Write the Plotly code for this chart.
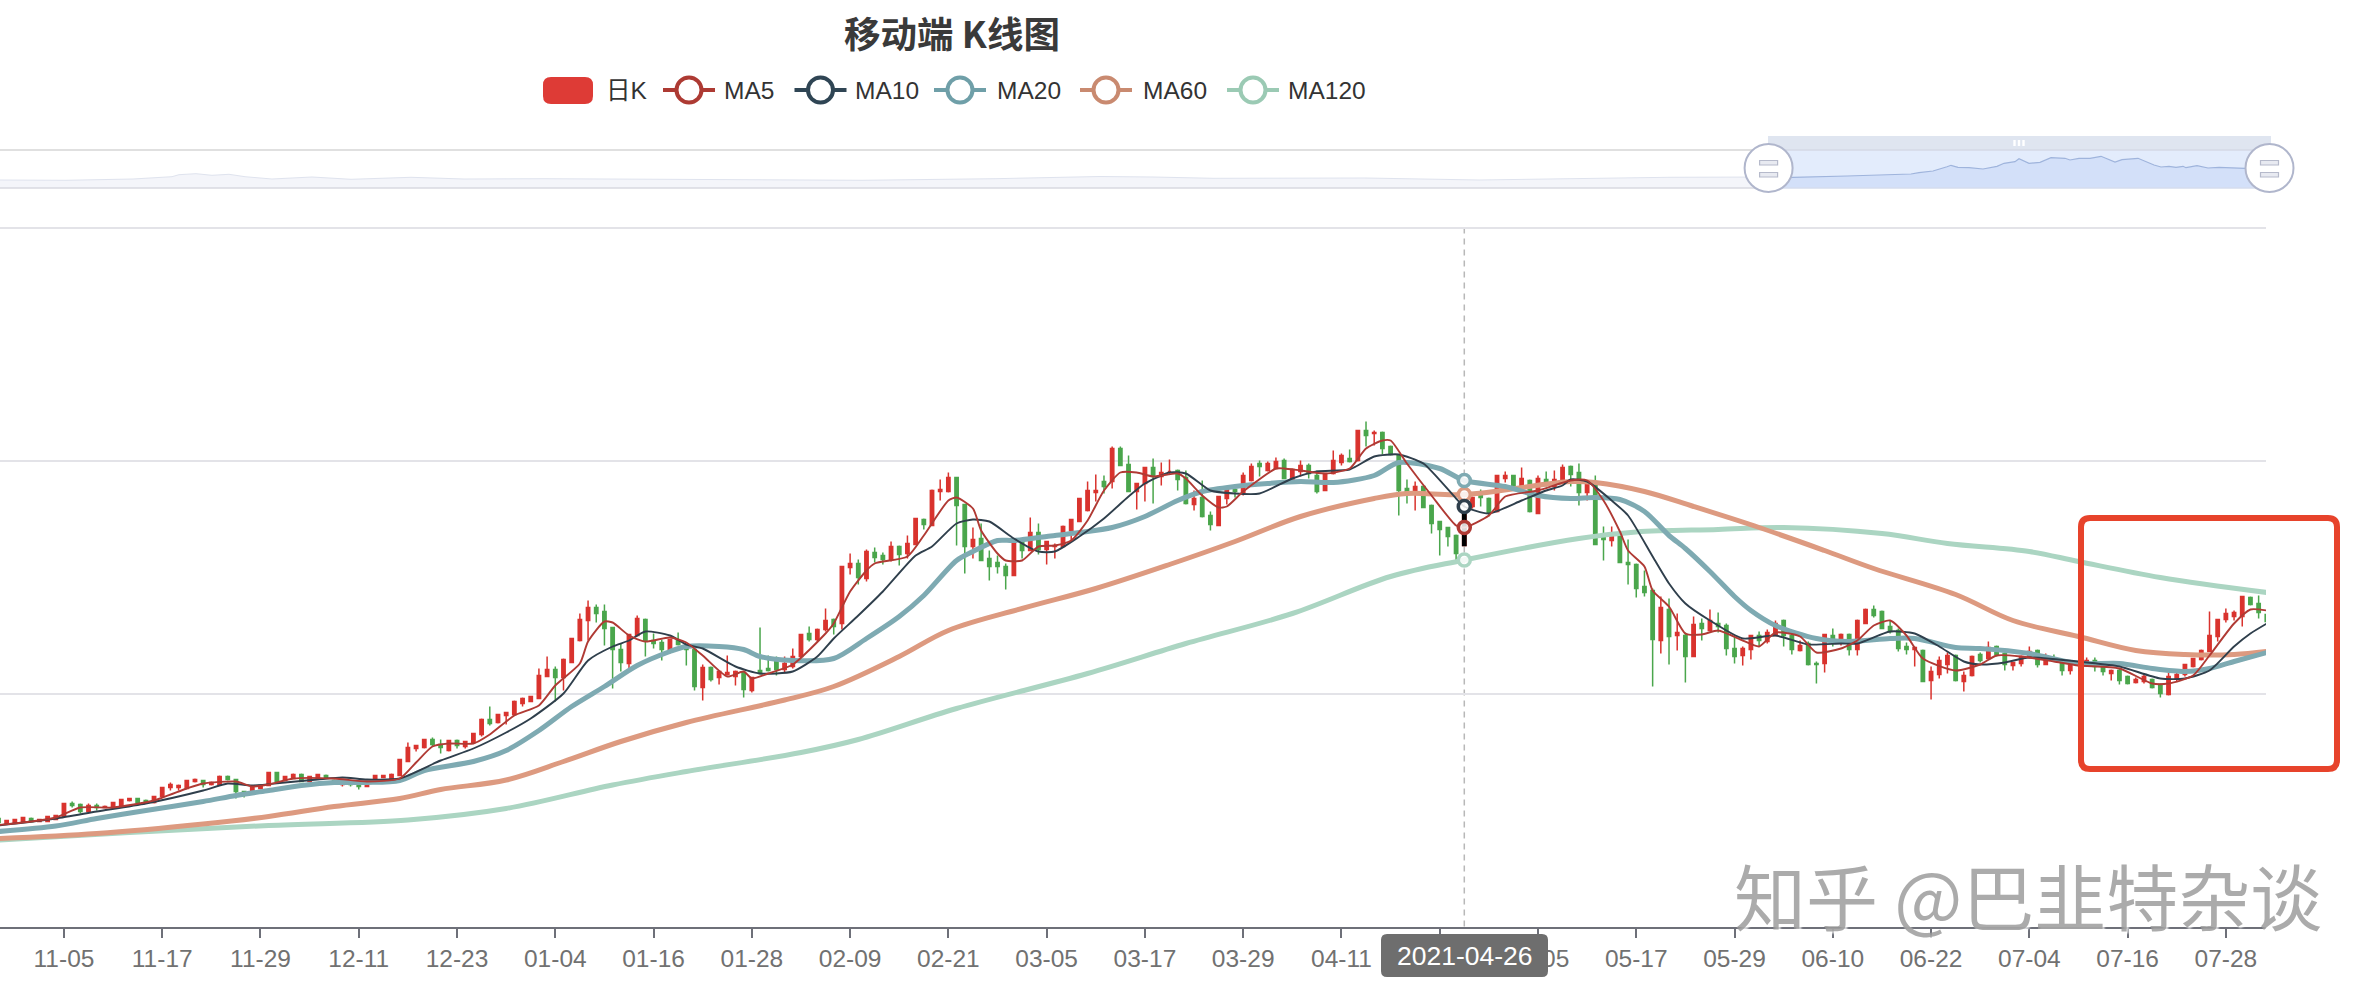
import plotly.graph_objects as go

W, H = 2378, 996
FONT = "Liberation Sans, Noto Sans CJK SC"
RED, GREEN = "#d9332e", "#4aa64c"
C5, C10, C20, C60, C120 = "#b03a34", "#2f3f4c", "#7eaab2", "#dd9a80", "#abd5c2"

tick_index = [0, 12, 24, 36, 48, 60, 72, 84, 96, 108, 120, 132, 144, 156, 168, 180, 192, 204, 216, 228, 240, 252, 264]
tick_text = ["11-05", "11-17", "11-29", "12-11", "12-23", "01-04", "01-16", "01-28", "02-09", "02-21", "03-05",
             "03-17", "03-29", "04-11", "", "05-05", "05-17", "05-29", "06-10", "06-22", "07-04", "07-16", "07-28"]
grid_values = [0, 233, 466, 699]
focus_index = 171
focus_label = "2021-04-26"
day_index = list(range(-8, 270))

open_ = [
108,103,104,105,108,105,105,107,110,123,
122,115,121,119,119,121,126,128,126,124,
130,139,139,138,145,146,142,142,150,147,
135,136,138,141,154,146,148,152,145,148,
151,146,142,144,142,140,148,149,148,151,
165,178,179,187,182,176,186,180,184,192,
207,204,211,212,223,225,228,250,257,249,
264,286,306,319,315,299,277,263,291,307,
286,284,277,286,280,277,239,259,249,252,
250,254,236,256,258,265,257,260,270,293,
287,297,307,303,359,363,348,374,371,367,
380,373,382,407,401,435,435,449,422,380,
388,368,364,360,351,386,376,394,377,380,
380,396,405,416,434,445,445,478,462,435,
443,459,450,455,456,449,422,429,411,401,
428,437,434,446,463,456,458,466,447,455,
461,451,436,453,464,468,466,496,493,494,
480,471,438,435,440,421,405,399,391,381,
420,431,428,415,448,451,440,446,413,447,
440,447,460,454,434,443,389,386,390,364,
362,340,336,286,317,291,291,270,303,296,
303,301,278,271,277,291,285,291,306,291,
276,283,263,263,291,285,292,277,303,317,
315,300,296,280,277,276,246,252,262,271,
245,251,272,268,280,273,261,263,270,276,
262,268,263,256,262,261,266,260,253,256,
250,244,245,247,242,232,248,252,260,267,
275,290,307,310,310,329,323,312]
high = [
108,106,107,109,109,107,110,111,123,125,
123,123,123,121,124,127,128,128,127,130,
139,144,142,146,148,146,145,151,151,147,
135,139,141,154,154,150,153,153,150,152,
152,147,145,145,143,143,151,151,153,167,
184,181,187,189,187,186,187,185,193,208,
220,212,214,226,229,230,258,270,260,268,
288,313,326,322,322,299,283,292,311,308,
293,287,287,294,282,278,262,260,256,271,
256,255,249,299,271,270,270,278,292,300,
298,318,308,360,373,367,377,379,374,385,
381,391,408,408,437,447,454,449,422,399,
403,376,371,363,386,388,409,403,385,383,
401,407,428,445,452,451,480,480,471,443,
459,468,464,467,457,456,436,446,415,430,
437,439,454,463,466,465,469,468,458,466,
463,456,453,476,473,477,496,505,496,495,
481,472,447,445,441,422,405,399,392,414,
430,437,429,451,455,451,459,447,451,455,
456,462,461,463,443,451,400,400,392,387,
363,356,338,330,328,313,294,310,308,317,
314,303,290,280,291,295,297,306,307,295,
286,285,265,292,298,293,293,307,318,321,
316,306,298,284,280,277,260,270,274,272,
255,271,274,285,281,274,264,271,280,277,
273,272,264,262,265,269,269,262,257,258,
251,249,252,248,243,254,254,262,268,277,
315,307,318,316,330,330,331,315]
low = [
104,103,104,105,105,105,105,107,110,119,
113,114,116,119,119,121,125,124,124,123,
130,136,136,138,144,139,141,141,146,128,
129,136,137,141,145,146,148,145,145,148,
148,143,140,140,137,140,148,149,148,151,
165,175,178,180,173,175,178,178,184,190,
201,203,202,212,220,225,228,250,225,236,
264,285,286,304,281,238,255,256,290,270,
278,266,273,281,261,236,226,245,242,251,
241,229,234,252,255,251,254,258,268,285,
285,295,292,297,352,342,345,364,362,365,
361,368,382,397,401,426,434,381,353,368,
366,346,353,337,351,368,376,372,362,368,
380,386,405,415,425,433,438,461,435,417,
425,423,441,452,436,422,416,409,396,401,
422,429,431,445,450,455,457,448,446,450,
448,433,436,452,461,464,465,480,481,472,
471,411,423,416,419,393,371,380,366,381,
418,420,410,414,444,438,438,414,413,440,
436,446,440,421,426,382,366,380,364,342,
329,330,240,273,262,276,244,270,286,295,
294,271,263,261,267,280,283,291,280,272,
275,261,243,254,280,281,271,271,303,309,
298,293,275,272,260,245,227,248,253,245,
235,250,264,267,270,256,256,260,268,259,
262,265,251,252,260,260,255,251,246,242,
242,243,243,238,229,231,245,250,259,266,
275,285,304,306,300,321,308,303]
close = [
104,106,107,109,105,107,110,111,123,121,
115,121,119,120,124,127,128,124,124,130,
139,142,141,146,147,142,144,150,147,135,
132,139,141,154,145,150,152,145,150,152,
149,143,144,142,140,143,151,151,152,167,
179,181,187,182,179,186,181,185,193,207,
203,212,214,225,228,230,251,257,249,267,
288,307,319,313,298,277,264,292,308,286,
283,277,287,282,277,240,259,247,255,254,
255,237,249,253,256,257,263,270,292,287,
297,306,300,360,363,349,375,369,367,380,
372,383,408,402,436,437,449,421,380,387,
366,360,360,351,385,376,394,377,385,381,
400,407,428,436,436,440,478,461,435,443,
459,450,454,455,447,423,428,410,402,430,
437,435,451,460,460,463,465,448,457,461,
453,435,453,466,471,465,496,491,494,478,
472,436,433,440,419,403,397,390,373,414,
429,429,414,451,451,440,448,415,448,445,
447,459,452,434,443,382,387,390,364,362,
338,334,287,319,290,294,270,302,298,306,
300,278,270,278,291,286,294,303,291,277,
281,262,262,292,285,292,277,306,317,311,
298,295,278,277,279,245,255,266,271,246,
251,270,266,279,272,262,264,270,275,262,
268,266,256,261,264,266,260,255,256,246,
243,247,250,239,233,250,252,262,268,276,
291,307,313,314,330,322,314,305]

ma5_x = [-8,-4,-1,2,6,11,15,17,21,23,25,28,33,37,41,43,45,47,50,52,55,58,60,63,64,66,67,69,71,74,76,78,81,83,84,86,89,93,94,96,98,99,103,105,108,109,111,112,114,115,117,119,121,123,125,127,129,131,133,136,137,139,141,142,144,148,149,151,154,157,159,161,162,164,167,170,171,174,176,180,184,186,188,190,191,193,194,196,198,200,202,205,207,209,212,214,217,219,221,223,225,227,231,234,236,239,243,246,251,255,257,260,262,265,267,269]
ma5_y = [101.5,105,109,119,119,126,138,143,145,140,142,148,148,145,148,164,180,183,183,192,211,221,241,263,285,305,304,291,285,289,284,271,250,255,248,253,262,293,303,335,356,363,370,391,426,429,418,396,373,366,366,380,381,386,406,436,454,454,450,453,448,431,419,420,435,458,458,456,453,458,478,486,486,463,431,401,399,411,430,436,446,446,426,395,376,360,336,320,293,292,296,286,280,294,290,274,278,286,301,306,291,268,256,262,271,270,265,261,258,243,243,251,271,303,317,316]
ma10_x = [-8,-1,4,10,17,20,23,27,31,34,37,41,46,50,54,57,61,64,67,69,71,74,76,78,82,85,89,92,94,97,100,104,106,109,111,113,116,119,121,124,127,130,132,135,137,140,143,146,150,153,157,160,163,166,170,171,174,178,181,183,184,186,189,191,194,196,198,201,205,209,213,217,219,223,226,229,232,234,237,240,247,251,256,259,262,265,267,269]
ma10_y = [101,108,115,123,136,143,141,144,147,149,147,148,166,178,194,208,233,266,280,286,295,291,282,278,260,253,255,270,288,311,335,371,380,403,407,405,388,375,375,390,408,430,443,454,453,436,433,433,448,455,457,470,472,463,428,420,413,426,436,441,447,445,426,411,370,343,323,306,288,291,282,283,283,295,293,280,265,262,264,269,264,260,248,248,256,280,293,303]
ma20_x = [-8,-1,4,10,17,21,25,29,33,37,41,44,50,54,58,62,66,70,74,76,80,83,85,89,94,98,102,105,109,111,114,116,120,124,128,132,136,139,143,147,151,155,160,163,168,171,176,180,184,187,190,193,196,198,201,204,206,209,214,218,223,226,231,234,240,246,251,255,259,262,265,269]
ma20_y = [95,100.5,108,116,125,131,136,141,144,144,146,156,165,176,196,220,240,261,275,280,280,277,270,266,268,288,310,331,366,375,386,386,390,394,399,410,426,435,440,443,445,444,451,464,458,446,440,431,428,429,427,415,391,378,355,330,316,301,288,285,288,288,279,278,273,263,263,258,255,258,265,274]
ma60_x = [-8,4,17,25,33,41,46,54,61,68,76,88,94,102,108,117,126,135,143,151,160,164,171,184,187,193,199,207,215,221,231,238,246,253,259,265,269]
ma60_y = [88,93,102.5,110,120,128,137,146.5,165,185,204,226.5,240,270,296,318,338,362,385,410,428,433,432,445,444,435,420,399,376,358,332,306,290,276,272,272,275]
ma120_x = [-8,8,25,42,54,67,76,90,97,109,125,137,150,162,171,185,192,202,210,222,230,240,246,256,269]
ma120_y = [86.5,94,101,106.5,118,141.5,155,174,187,218,253,283,313,350,366.5,388,394.5,397,399,393,383,375,365,349,334]

overview_rest_x = [0,66,133,172,179,196,212,229,245,272,312,351,411,464,544,663,729,862,995,1040,1062,1100,1153,1213,1365,1479,1668,1768]
overview_rest_y = [8,7.7,9,11.3,13.3,14.3,12.7,13.7,11.3,9,11,8.7,10.7,9,9.3,8.7,7.7,7.7,9.3,10,11,11.5,11,9.7,10,8,10.7,11]
overview_sel_x = [1768,1793,1847,1883,1911,1919,1933,1947,1951,1958,1969,1983,1997,2004,2015,2019,2029,2040,2051,2065,2070,2079,2090,2101,2115,2122,2129,2138,2154,2161,2169,2176,2183,2186,2197,2208,2219,2245,2271]
overview_sel_y = [10.5,10.7,12,13.3,14,15.3,17,21.3,22.7,20.7,20.3,19,21.7,24.7,26.3,29.3,24.7,25.7,30.3,29.7,28,29.7,29.7,31.7,26,28.3,28.7,29.7,23,21,21.7,20.7,21.7,20.3,22.3,20,20.7,19.7,19.7]

legend_names = ["MA5", "MA10", "MA20", "MA60", "MA120"]
legend_colors = ["#ad3a33", "#2f4554", "#6f9fa8", "#c98a70", "#9bcab4"]

def px(x): return x / W
def py(y): return 1 - y / H

def rect(x0, y0, x1, y1, **kw):
    return dict(type="rect", xref="paper", yref="paper", x0=px(x0), x1=px(x1), y0=py(y0), y1=py(y1), **kw)

def line(x0, y0, x1, y1, color, width, **kw):
    return dict(type="line", xref="paper", yref="paper", x0=px(x0), x1=px(x1), y0=py(y0), y1=py(y1),
                line=dict(color=color, width=width), **kw)

def rounded(x0, y0, x1, y1, r, **kw):
    a, b, c, d = px(x0), px(x1), py(y0), py(y1)
    rx, ry = r / W, r / H
    path = (f"M {a+rx} {c} L {b-rx} {c} Q {b} {c} {b} {c-ry} L {b} {d+ry} Q {b} {d} {b-rx} {d} "
            f"L {a+rx} {d} Q {a} {d} {a} {d+ry} L {a} {c-ry} Q {a} {c} {a+rx} {c} Z")
    return dict(type="path", xref="paper", yref="paper", path=path, **kw)

def circle(cx, cy, r, **kw):
    return dict(type="circle", xref="paper", yref="paper", x0=px(cx-r), x1=px(cx+r), y0=py(cy-r), y1=py(cy+r), **kw)

shapes = []
shapes.append(dict(type="line", xref="x", yref="paper", x0=focus_index, x1=focus_index, y0=py(926.5), y1=py(227),
                   layer="below", line=dict(color="#b8b8b8", width=1.5, dash="6px,5px")))
shapes.append(rect(1768, 150, 2271, 188, layer="below", fillcolor="#e3ecfc", line_width=0))
shapes.append(rect(1768, 136, 2271, 150, fillcolor="#dfe5f0", line_width=0))
shapes.append(line(0, 150, 1768, 150, "#d6d6d6", 1.6))
shapes.append(line(0, 188, 1768, 188, "#d8d9e0", 1.6))
shapes.append(line(1768, 150, 2271, 150, "#d4d9e6", 1.6))
shapes.append(line(1768, 188, 2271, 188, "#d4dcee", 1.6))
for gx in (2014.5, 2019, 2023.5):
    shapes.append(rect(gx - 1.2, 140, gx + 1.2, 146, fillcolor="#ffffff", line_width=0))
for hx in (1768.6, 2269.5):
    shapes.append(circle(hx, 168, 24, fillcolor="#ffffff", line=dict(color="#b0b6cc", width=2)))
    shapes.append(rect(hx - 9, 160.5, hx + 9, 165, fillcolor="#e8eaf1", line=dict(color="#b6bacb", width=1.2)))
    shapes.append(rect(hx - 9, 172.5, hx + 9, 177, fillcolor="#e8eaf1", line=dict(color="#b6bacb", width=1.2)))
shapes.append(rounded(1381, 934, 1548, 977, 6, fillcolor="#6e6e6e", line_width=0))
shapes.append(rounded(2081, 518, 2337, 769, 9, fillcolor="rgba(0,0,0,0)", line=dict(color="#e7432b", width=6)))
shapes.append(rounded(543, 77, 593, 104, 8, fillcolor="#de3b36", line_width=0))
legend_centers = [689, 820.5, 960, 1106, 1253]
legend_text_x = [722, 853, 995, 1141, 1286]
for cx, col in zip(legend_centers, legend_colors):
    shapes.append(line(cx - 26, 90, cx + 26, 90, col, 4))
    shapes.append(circle(cx, 90, 12.5, fillcolor="#ffffff", line=dict(color=col, width=4)))

annotations = []
for tx, name in zip([604] + legend_text_x, ["日K"] + legend_names):
    annotations.append(dict(xref="paper", yref="paper", x=px(tx), y=py(90), xanchor="left", yanchor="middle",
                            text=name, showarrow=False, font=dict(family=FONT, size=24.5, color="#333333")))
annotations.append(dict(xref="paper", yref="paper", x=px(1464.5), y=py(955.5), xanchor="center", yanchor="middle",
                        text=focus_label, showarrow=False, font=dict(family=FONT, size=26.5, color="#ffffff")))
annotations.append(dict(xref="paper", yref="paper", x=px(2028), y=py(893), xanchor="center", yanchor="middle",
                        text="知乎 @巴韭特杂谈", showarrow=False,
                        font=dict(family="Noto Sans CJK SC", size=72, color="rgba(150,150,150,0.8)",
                                  shadow="2px 2px 2px rgba(255,255,255,0.9)")))

fig = go.Figure()
fig.add_trace(go.Candlestick(
    x=day_index, open=open_, high=high, low=low, close=close, name="日K",
    increasing=dict(line=dict(color=RED, width=1.5), fillcolor=RED),
    decreasing=dict(line=dict(color=GREEN, width=1.5), fillcolor=GREEN),
    hoverinfo="skip"))
k = day_index.index(focus_index)
fig.add_trace(go.Candlestick(
    x=[focus_index], open=[open_[k]], high=[high[k]], low=[low[k]], close=[close[k]], name="日K 选中",
    increasing=dict(line=dict(color="#000000", width=1.5), fillcolor="#000000"),
    decreasing=dict(line=dict(color="#000000", width=1.5), fillcolor="#000000"),
    hoverinfo="skip"))

series = [("MA120", ma120_x, ma120_y, C120, 5, 1.0), ("MA60", ma60_x, ma60_y, C60, 5, 1.0), ("MA20", ma20_x, ma20_y, C20, 5, 0.8),
          ("MA10", ma10_x, ma10_y, C10, 1.9, 0.6), ("MA5", ma5_x, ma5_y, C5, 1.9, 0.6)]
for name, xs, ys, col, w, sm in series:
    fig.add_trace(go.Scatter(x=xs, y=ys, mode="lines", name=name, hoverinfo="skip",
                             line=dict(color=col, width=w, shape="spline", smoothing=sm)))
for name, xs, ys, col, w, sm in series:
    fig.add_trace(go.Scatter(x=[focus_index], y=[dict(zip(xs, ys))[focus_index]], mode="markers", name=name + " 选中",
                             hoverinfo="skip",
                             marker=dict(size=12, color="rgba(255,255,255,0.85)", line=dict(color=col, width=3.5))))

fig.add_trace(go.Scatter(x=overview_rest_x, y=overview_rest_y, xaxis="x2", yaxis="y2", mode="lines", fill="tozeroy",
                         fillcolor="#f4f5fa", line=dict(color="#dfe3ee", width=1), hoverinfo="skip", name="总览"))
fig.add_trace(go.Scatter(x=overview_sel_x, y=overview_sel_y, xaxis="x2", yaxis="y2", mode="lines", fill="tozeroy",
                         fillcolor="#d3e0f9", line=dict(color="#9fb4dc", width=1.2), hoverinfo="skip", name="选中区间"))

fig.update_layout(
    width=W, height=H, autosize=False, margin=dict(l=0, r=0, t=0, b=0, pad=0),
    paper_bgcolor="#ffffff", plot_bgcolor="#ffffff", showlegend=False, boxgap=0.42, boxmode="overlay",
    font=dict(family=FONT),
    title=dict(text="移动端 K线图", x=px(952), xanchor="center", y=py(35), yanchor="middle",
               font=dict(family="Noto Sans CJK SC", size=36.5, color="#3a3a3a", weight=700)),
    xaxis=dict(domain=[0, 2266 / W], range=[-7.81, 268.9], tickmode="array", tickvals=tick_index, ticktext=tick_text,
               rangeslider=dict(visible=False), showgrid=False, zeroline=False, showline=True, linecolor="#6e7079",
               linewidth=2, ticks="outside", ticklen=9, tickwidth=1.6, tickcolor="#6e7079",
               tickfont=dict(family=FONT, size=24.5, color="#717171"), anchor="y"),
    yaxis=dict(domain=[py(926.5), py(224)], range=[0, 702.5], tickmode="array", tickvals=grid_values,
               showticklabels=False, showgrid=True, gridcolor="#e3e3e8", gridwidth=1.6, zeroline=False, showline=False,
               ticks="", anchor="x"),
    xaxis2=dict(domain=[0, 1], range=[0, W], visible=False, anchor="y2", fixedrange=True),
    yaxis2=dict(domain=[py(188), py(150)], range=[0, 38], visible=False, anchor="x2", fixedrange=True),
    shapes=shapes, annotations=annotations,
)

assert all(len(a) == len(day_index) for a in (open_, high, low, close))
fig.write_html("out.html", config={"displayModeBar": False},
               post_script="document.body.style.margin='0';document.body.style.overflow='hidden';")
